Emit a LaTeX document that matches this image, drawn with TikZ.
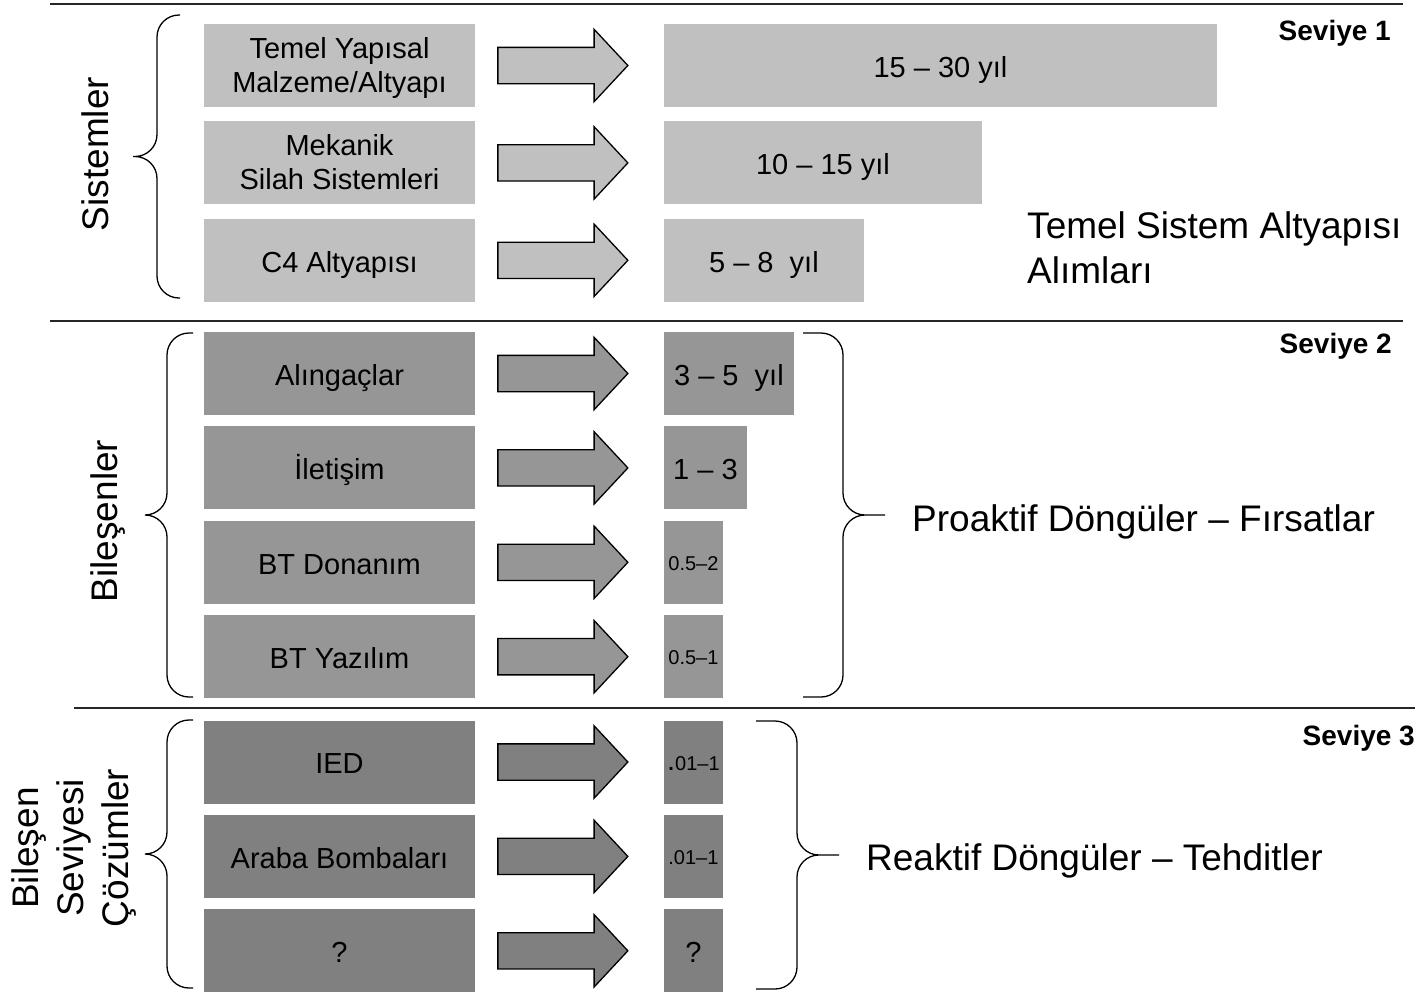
\documentclass[tikz,border=0pt]{standalone}
\usepackage{fontspec}
\setmainfont{Liberation Sans}
\usetikzlibrary{positioning, shapes.arrows}
\definecolor{lvone}{HTML}{C0C0C0}
\definecolor{lvtwo}{HTML}{969696}
\definecolor{lvthree}{HTML}{808080}

\begin{document}
\begin{tikzpicture}[x=1pt, y=-1pt,
  every node/.style={font=\fontsize{29}{34}\selectfont, inner sep=0pt},
  boxtext/.style={execute at begin node={\rule{0pt}{1.04em}}, execute at end node={\rule[-.22em]{0pt}{0pt}}},
  unit/.style={rectangle, minimum width=271pt, minimum height=83pt, align=center, boxtext},
  dur/.style={rectangle, minimum height=83pt, anchor=west, align=center, boxtext},
  fat/.style={single arrow, draw=black, line width=1.3pt, minimum height=130pt, inner ysep=17.5pt,
    single arrow head extend=18pt, single arrow tip angle=94, anchor=tail},
  minor/.style={font=\fontsize{20}{24}\selectfont},
  big/.style={font=\fontsize{37}{45}\selectfont},
  tier/.style={font=\fontsize{28}{34}\selectfont\bfseries, anchor=base east},
  rule/.style={draw=black!85, line width=2pt},
  curly/.style={draw=black, line width=1.3pt, rounded corners=22pt},
]
\useasboundingbox (0,0) rectangle (1415,991);

% level separators
\draw[rule] (50,4) -- (1403,4);
\draw[rule] (50,321) -- (1403,321);
\draw[rule] (74,708) -- (1415,708);

% Seviye 1
\node[unit, fill=lvone] (sys1) at (339.5,65.5) {\rule{0pt}{.9em}Temel Yapısal\\Malzeme/Altyapı};
\node[unit, fill=lvone, below=14pt of sys1] (sys2) {\rule{0pt}{.9em}Mekanik\\Silah Sistemleri};
\node[unit, fill=lvone, below=14pt of sys2] (sys3) {C4 Altyapısı};
\node[fat, fill=lvone] (ar1) at ([xshift=22pt]sys1.east) {};
\node[fat, fill=lvone] (ar2) at ([xshift=22pt]sys2.east) {};
\node[fat, fill=lvone] (ar3) at ([xshift=22pt]sys3.east) {};
\node[dur, fill=lvone, minimum width=553pt] (yr1) at ([xshift=35pt]ar1.tip) {15 – 30 yıl};
\node[dur, fill=lvone, minimum width=318pt] (yr2) at ([xshift=35pt]ar2.tip) {10 – 15 yıl};
\node[dur, fill=lvone, minimum width=200pt] (yr3) at ([xshift=35pt]ar3.tip) {5 – 8\ \ yıl};

% Seviye 2
\node[unit, fill=lvtwo] (cmp1) at (339.5,373.5) {Alıngaçlar};
\node[unit, fill=lvtwo, below=11pt of cmp1] (cmp2) {İletişim};
\node[unit, fill=lvtwo, below=11pt of cmp2] (cmp3) {BT Donanım};
\node[unit, fill=lvtwo, below=11pt of cmp3] (cmp4) {BT Yazılım};
\node[fat, fill=lvtwo] (ar4) at ([xshift=22pt]cmp1.east) {};
\node[fat, fill=lvtwo] (ar5) at ([xshift=22pt]cmp2.east) {};
\node[fat, fill=lvtwo] (ar6) at ([xshift=22pt]cmp3.east) {};
\node[fat, fill=lvtwo] (ar7) at ([xshift=22pt]cmp4.east) {};
\node[dur, fill=lvtwo, minimum width=130pt] (yr4) at ([xshift=35pt]ar4.tip) {3 – 5\ \ yıl};
\node[dur, fill=lvtwo, minimum width=83pt] (yr5) at ([xshift=35pt]ar5.tip) {1 – 3};
\node[dur, fill=lvtwo, minimum width=59pt, minor] (yr6) at ([xshift=35pt]ar6.tip) {0.5–2};
\node[dur, fill=lvtwo, minimum width=59pt, minor] (yr7) at ([xshift=35pt]ar7.tip) {0.5–1};

% Seviye 3
\node[unit, fill=lvthree] (sol1) at (339.5,762) {IED};
\node[unit, fill=lvthree, below=11pt of sol1] (sol2) {Araba Bombaları};
\node[unit, fill=lvthree, below=11pt of sol2] (sol3) {?};
\node[fat, fill=lvthree] (ar8) at ([xshift=22pt]sol1.east) {};
\node[fat, fill=lvthree] (ar9) at ([xshift=22pt]sol2.east) {};
\node[fat, fill=lvthree] (ar10) at ([xshift=22pt]sol3.east) {};
\node[dur, fill=lvthree, minimum width=59pt, minor] (yr8) at ([xshift=35pt]ar8.tip) {{\fontsize{29}{24}\selectfont.}01–1};
\node[dur, fill=lvthree, minimum width=59pt, minor] (yr9) at ([xshift=35pt]ar9.tip) {.01–1};
\node[dur, fill=lvthree, minimum width=59pt] (yr10) at ([xshift=35pt]ar10.tip) {?};

% braces
\draw[curly] (180,15) -| (157,156.5) -- (133,156.5) (133,156.5) -| (157,298) -- (180,298);
\draw[curly] (193,333) -| (167,515) -- (145,515) (145,515) -| (167,697) -- (193,697);
\draw[curly] (193,720) -| (167,854) -- (145,854) (145,854) -| (167,988) -- (193,988);
\draw[curly] (803,333) -| (843,515) -- (885,515) (885,515) -| (843,697) -- (803,697);
\draw[curly] (756,721) -| (797,855) -- (839,855) (839,855) -| (797,989) -- (756,989);

% labels
\node[big, rotate=90, anchor=base] (lab1) at (108,154) {Sistemler};
\node[big, rotate=90, anchor=base] (lab2) at (117,521) {Bileşenler};
\node[big, rotate=90, align=center] (lab3) at (74,848) {Bileşen\\Seviyesi\\Çözümler};
\node[big, align=left, anchor=west] (acq) at (1027,248) {Temel Sistem Altyapısı\\Alımları};
\node[big, anchor=base west] (pro) at (912,531) {Proaktif Döngüler – Fırsatlar};
\node[big, anchor=base west] (rea) at (866,870) {Reaktif Döngüler – Tehditler};
\node[tier] (lv1) at (1391,40) {Seviye 1};
\node[tier] (lv2) at (1392,353) {Seviye 2};
\node[tier] (lv3) at (1415,745) {Seviye 3};
\end{tikzpicture}
\end{document}
